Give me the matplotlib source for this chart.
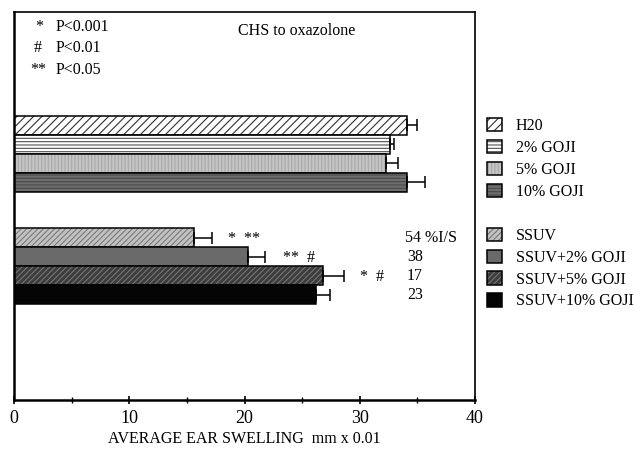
import matplotlib
matplotlib.use("Agg")
import matplotlib.pyplot as plt
from matplotlib.patches import Patch

plt.rcParams['font.family'] = ['Liberation Serif', 'DejaVu Serif']
plt.rcParams['hatch.linewidth'] = 0.8

# control groups (top) and SSUV groups (bottom)
labels_top = ['H20', '2% GOJI', '5% GOJI', '10% GOJI']
values_top = [34.1, 32.6, 32.3, 34.1]
errors_top = [0.9, 0.4, 1.0, 1.6]

labels_bot = ['SSUV', 'SSUV+2% GOJI', 'SSUV+5% GOJI', 'SSUV+10% GOJI']
values_bot = [15.6, 20.3, 26.8, 26.2]
errors_bot = [1.6, 1.5, 1.8, 1.2]

sig_marks = ['*  **', '**  #', '*  #', '']
inhibition = ['54 %I/S', '38', '17', '23']

# face colour, hatch, hatch colour
styles_top = [('white', '////', '#303030'),
              ('white', '-----', '#505050'),
              ('#c4c4c4', '|||||', '#a8a8a8'),
              ('#6e6e6e', '-----', '#4a4a4a')]
styles_bot = [('#c2c2c2', '//////', '#7a7a7a'),
              ('#6a6a6a', '', '#6a6a6a'),
              ('#3c3c3c', '//////', '#757575'),
              ('#050505', '', '#050505')]

fs = 11.5

fig = plt.figure(figsize=(6.35, 4.51), dpi=100)
ax = fig.add_axes([14/635, 51/451, 461/635, 388/451])

pos_top = [5.95 + i for i in range(4)]
pos_bot = [11.87 + i for i in range(4)]

handles = []
def draw(pos, val, err, style):
    fc, hatch, hc = style
    ax.barh(pos, val, height=1.0, color=fc, hatch=hatch, edgecolor=hc, linewidth=0)
    ax.barh(pos, val, height=1.0, fill=False, edgecolor='black', linewidth=1.1)
    ax.errorbar(val, pos, xerr=[[0], [err]], fmt='none', ecolor='black',
                elinewidth=1.1, capsize=4, capthick=1.1)
    return (Patch(facecolor=fc, hatch=hatch, edgecolor=hc, linewidth=0),
            Patch(fill=False, edgecolor='black', linewidth=1.1))

for i in range(4):
    handles.append(draw(pos_top[i], values_top[i], errors_top[i], styles_top[i]))
blank = Patch(facecolor='none', edgecolor='none')
handles.append(blank)
for i in range(4):
    handles.append(draw(pos_bot[i], values_bot[i], errors_bot[i], styles_bot[i]))

sig_x = [18.6, 23.3, 30.0, 0]
for i in range(4):
    if sig_marks[i]:
        ax.text(sig_x[i], pos_bot[i] + 0.1, sig_marks[i], fontsize=fs, va='center', ha='left')
    ax.text(33.9 if i == 0 else 34.1, pos_bot[i], inhibition[i], fontsize=fs, va='center', ha='left')

ax.set_xlim(0, 40)
ax.set_ylim(20.42, 0)
ax.set_yticks([])
ax.set_xticks([0, 10, 20, 30, 40])
ax.set_xticks([5, 15, 25, 35], minor=True)
ax.tick_params(axis='x', which='both', direction='inout', labelsize=13, pad=4)
ax.tick_params(axis='x', which='major', length=6, width=1.2)
ax.tick_params(axis='x', which='minor', length=4, width=1.0)
for s in ax.spines.values():
    s.set_linewidth(1.2)
ax.spines['left'].set_linewidth(1.8)
ax.spines['bottom'].set_linewidth(1.8)
ax.set_xlabel('AVERAGE EAR SWELLING  mm x 0.01', fontsize=fs, labelpad=3)

# p-value key
key_sym = ['*', '#', '**']
key_txt = ['P<0.001', 'P<0.01', 'P<0.05']
key_y = [0.962, 0.906, 0.850]
key_sx = [0.045, 0.042, 0.036]
for s, t, y, sx in zip(key_sym, key_txt, key_y, key_sx):
    ax.text(sx, y, s, transform=ax.transAxes, fontsize=fs, va='center')
    ax.text(0.090, y, t, transform=ax.transAxes, fontsize=fs, va='center')
ax.text(0.486, 0.951, 'CHS to oxazolone', transform=ax.transAxes, fontsize=fs, va='center')

leg_labels = labels_top + [''] + labels_bot
fig.legend(handles, leg_labels, loc='upper left', bbox_to_anchor=(0.757, 0.752),
           frameon=False, fontsize=fs, handlelength=0.95, handleheight=0.9,
           labelspacing=0.36, handletextpad=0.85, borderaxespad=0)

fig.savefig('out.png', dpi=100)
